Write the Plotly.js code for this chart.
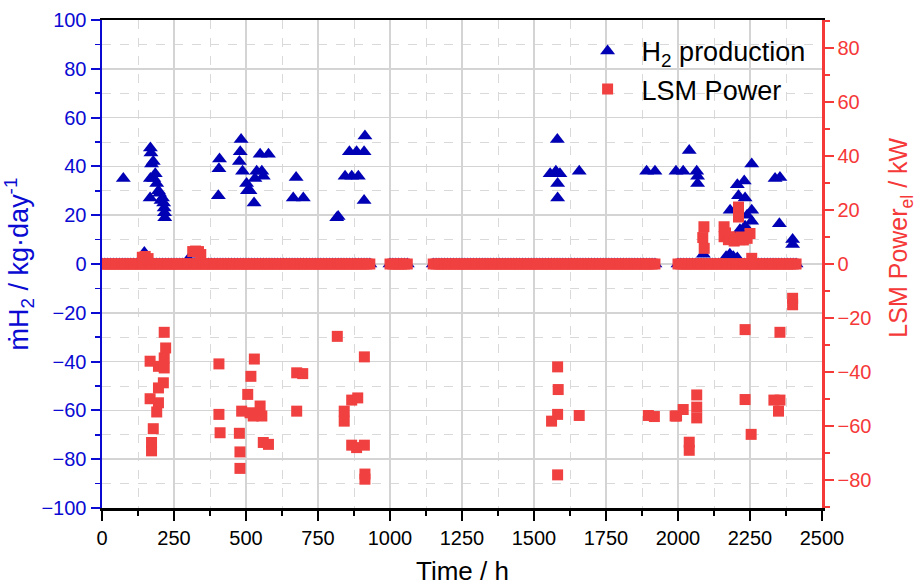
<!DOCTYPE html>
<html>
<head>
<meta charset="utf-8">
<script src="https://cdn.plot.ly/plotly-3.0.1.min.js"></script>
<style>
  html, body { margin: 0; padding: 0; background: #fff; }
  #chart { width: 919px; height: 585px; }
</style>
</head>
<body>
<div id="chart"></div>
<script>
// Hours at which the electrolyser and the LSM were idle (both logged as 0)
const idleHours = [
  0,10,20,30,40,50,60,70,80,90,100,110,120,130,140,150,160,170,180,190,
  200,210,220,230,240,250,260,270,280,290,300,310,320,330,340,350,360,370,380,390,
  400,410,420,430,440,450,460,470,480,490,500,510,520,530,540,550,560,570,580,590,
  600,610,620,630,640,650,660,670,680,690,700,710,720,730,740,750,760,770,780,790,
  800,810,820,830,840,850,860,870,880,890,900,910,920,930,
  1000,1010,1020,1030,1040,1050,1060,
  1150,1160,1170,1180,1190,1200,1210,1220,1230,1240,1250,1260,1270,1280,1290,
  1300,1310,1320,1330,1340,1350,1360,1370,1380,1390,1400,1410,1420,1430,1440,
  1450,1460,1470,1480,1490,1500,1510,1520,1530,1540,1550,1560,1570,1580,1590,
  1600,1610,1620,1630,1640,1650,1660,1670,1680,1690,1700,1710,1720,1730,1740,
  1750,1760,1770,1780,1790,1800,1810,1820,1830,1840,1850,1860,1870,1880,1890,
  1900,1910,1920,
  2000,2010,2020,2030,2040,2050,2060,2070,2080,2090,2100,2110,2120,2130,2140,
  2150,2160,2170,2180,2190,2200,2210,2220,2230,2240,2250,2260,2270,2280,2290,
  2300,2310,2320,2330,2340,2350,2360,2370,2380,2390,2400,2410
];
const IDLE_VALUE = 0;

// Hydrogen production events: time (h) and mass flow (kg/day)
const h2Hours = [
  74, 147, 168, 170, 172, 178, 185, 168, 180, 190, 196, 200, 167, 205, 210, 214, 216, 217, 218,
  300, 320,
  404, 406, 408,
  477, 480, 483, 488, 502, 505, 514, 528, 531, 537, 549, 555, 560, 578,
  664, 674, 699,
  815, 820, 844, 859, 867, 884, 890, 910, 913, 910,
  1556, 1576, 1581, 1582, 1582, 1590, 1657,
  1891, 1920, 1993, 2018, 2039, 2065, 2068, 2068, 2088,
  2167, 2180, 2192, 2206, 2181, 2206, 2210, 2215, 2230, 2233, 2233, 2240,
  2256, 2256, 2256, 2337, 2354, 2352, 2398, 2398
];
const h2Values = [
  35, 4.7, 47.5, 45.5, 41, 42, 37, 35, 35, 33, 30, 29, 27, 26, 27, 25, 23, 21, 19,
  2, 4,
  28, 39, 43,
  42, 46, 51, 38, 33, 30, 30, 25, 35, 38, 45, 38, 36, 45,
  27, 35.5, 27,
  19, 19.5, 36, 46, 36, 46, 36, 46, 52.5, 26,
  37, 38, 51, 33, 27, 37, 38,
  38, 38, 38, 38, 46.5, 38, 36, 33, 4,
  3, 4, 3, 2.5, 22, 32.5, 28, 14, 34, 27, 15.5, 20,
  41, 22, 17.5, 35, 35.5, 16.5, 10, 8
];

// LSM electrical power events: time (h) and power (kW)
const lsmHours = [
  140, 150, 160, 315, 325, 335, 343,
  167, 167, 172, 172, 178, 190, 196, 196, 196, 213, 216, 216, 216, 221,
  406, 406, 410,
  477, 479, 479, 485, 506, 514, 517, 525, 529, 549, 555, 560, 578,
  676, 697, 676,
  817, 841, 841, 867, 867, 884, 888, 911, 911, 913, 913,
  1561, 1582, 1582, 1584, 1582, 1657,
  1897, 1918, 1990, 1995, 2018, 2039, 2039, 2065, 2065, 2065,
  2086, 2090, 2091, 2160, 2160, 2165, 2175, 2181, 2195, 2204, 2210, 2210, 2215, 2220, 2227, 2240, 2250, 2256,
  2233, 2233, 2254, 2333, 2349, 2354, 2354, 2398, 2398
];
const lsmValues = [
  2.5, 2.8, 2, 4.6, 4.8, 4.6, 3.5,
  -36, -49.9, -66.1, -69.2, -61, -54.8, -37.9, -45.9, -51.4, -44, -25.3, -34.8, -38.5, -31.1,
  -37, -55.7, -62.5,
  -62.7, -69.6, -75.7, -54.5, -48.3, -55.1, -41.6, -56.3, -35.2, -52.6, -56.3, -66.1, -66.8,
  -40.3, -40.6, -54.5,
  -26.8, -54.5, -58.2, -50.4, -67.1, -68, -49.6, -34.4, -67.1, -77.8, -79.7,
  -58.2, -38.1, -55.7, -46.5, -78.1, -56.1,
  -56.1, -56.5, -56.3, -56.3, -53.9, -66, -69, -48.5, -53, -57,
  9.8, 13.8, 5.8, 13.8, 10.1, 11.5, 9, 10.1, 8.5, 9.5, 21.1, 17.4, 9, 10, 8.9, 9.5, 11.3, 2.1,
  -24.3, -50.2, -63.1, -50.4, -54.5, -25.3, -50.4, -12.7, -15.1
];

const BLUE = '#0000B4';
const BLUE_AXIS = '#0A0AD2';
const RED = '#F04040';
const RED_AXIS = '#F53838';
const GRID = '#D4D4D4';
const GRID_MINOR = '#D9D9D9';
const FONT = 'Liberation Sans, Arial, Helvetica, sans-serif';

const idleValues = idleHours.map(() => IDLE_VALUE);

const h2Trace = {
  type: 'scatter', mode: 'markers',
  name: 'H<sub>2</sub> production',
  legendgroup: 'h2',
  x: idleHours.concat(h2Hours),
  y: idleValues.concat(h2Values),
  yaxis: 'y',
  marker: { symbol: 'triangle-up', size: 13, color: BLUE, line: { width: 0 } }
};

const lsmTrace = {
  type: 'scatter', mode: 'markers',
  name: 'LSM Power',
  legendgroup: 'lsm',
  x: idleHours.concat(lsmHours),
  y: idleValues.concat(lsmValues),
  yaxis: 'y2',
  marker: { symbol: 'square', size: 11, color: RED, line: { width: 0 } }
};

const layout = {
  width: 919, height: 585,
  margin: { l: 102, r: 97, t: 20, b: 77 },
  paper_bgcolor: '#ffffff', plot_bgcolor: '#ffffff',
  font: { family: FONT, color: '#000' },
  showlegend: true,
  legend: {
    x: 0.655, y: 0.986, xanchor: 'left', yanchor: 'top',
    bgcolor: 'rgba(0,0,0,0)', borderwidth: 0,
    font: { size: 27, color: '#000', family: FONT },
    traceorder: 'grouped', tracegroupgap: 0, itemwidth: 58
  },
  xaxis: {
    range: [0, 2500], tick0: 0, dtick: 250,
    ticks: 'outside', ticklen: 10, tickwidth: 2, tickcolor: '#000',
    showline: true, linecolor: '#000', linewidth: 2.5, mirror: true,
    showgrid: true, gridcolor: GRID, gridwidth: 1.5, zeroline: false,
    tickfont: { size: 20, color: '#000', family: FONT },
    minor: { dtick: 125, ticks: 'outside', ticklen: 5, tickwidth: 1.5, tickcolor: '#000',
             showgrid: true, gridcolor: GRID_MINOR, gridwidth: 1, griddash: 'dash' }
  },
  yaxis: {
    range: [-100, 100], tick0: 0, dtick: 20,
    ticks: 'outside', ticklen: 9, tickwidth: 2, tickcolor: BLUE_AXIS,
    showline: true, linecolor: BLUE_AXIS, linewidth: 2.5,
    showgrid: true, gridcolor: GRID, gridwidth: 1.5, zeroline: false,
    tickfont: { size: 20, color: BLUE_AXIS, family: FONT },
    title: { text: 'ṁH<sub>2</sub> / kg·day<sup>-1</sup>', font: { size: 27, color: BLUE_AXIS, family: FONT }, standoff: 5 },
    minor: { dtick: 10, ticks: 'outside', ticklen: 5, tickwidth: 1.5, tickcolor: BLUE_AXIS,
             showgrid: true, gridcolor: GRID_MINOR, gridwidth: 1, griddash: 'dash' }
  },
  yaxis2: {
    overlaying: 'y', side: 'right', anchor: 'x',
    range: [-90.37, 90.37], tick0: 0, dtick: 20,
    ticks: 'outside', ticklen: 9, tickwidth: 2, tickcolor: RED_AXIS,
    showline: true, linecolor: RED_AXIS, linewidth: 2.5,
    showgrid: false, zeroline: false,
    tickfont: { size: 20, color: RED_AXIS, family: FONT },
    minor: { dtick: 10, ticks: 'outside', ticklen: 5, tickwidth: 1.5, tickcolor: RED_AXIS, showgrid: false }
  },
  annotations: [
    {
      // time axis title, placed below the tick labels
      text: 'Time / h',
      xref: 'paper', yref: 'paper', x: 0.5, y: -0.129,
      xanchor: 'center', yanchor: 'middle', showarrow: false,
      font: { size: 26, color: '#000', family: FONT }
    },
    {
      // right-hand axis title for the LSM power
      text: 'LSM Power<sub>el</sub> / kW',
      xref: 'paper', yref: 'paper', x: 1.109, y: 0.555,
      xanchor: 'center', yanchor: 'middle', textangle: -90, showarrow: false,
      font: { size: 25, color: RED_AXIS, family: FONT }
    }
  ]
};

Plotly.newPlot('chart', [h2Trace, lsmTrace], layout, { displayModeBar: false, staticPlot: true });
</script>
</body>
</html>
